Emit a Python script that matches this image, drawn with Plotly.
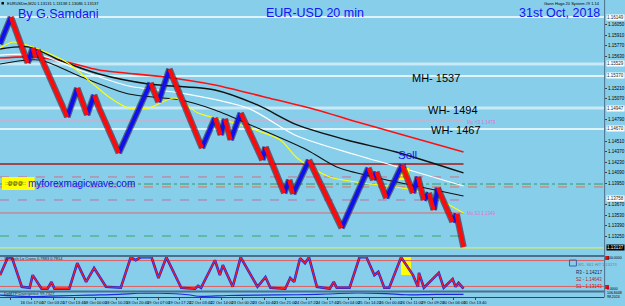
import plotly.graph_objects as go

W, H = 625, 306
BG = "#87CEEB"
FONT = "Liberation Sans, Arial, sans-serif"

# ---------------- data ----------------
# renko-like price path pivots (bar index, price)
path_x = [0, 11, 28, 33, 36, 38, 68, 78, 88, 95, 100, 120, 152, 160, 171, 204, 217, 223, 227, 233, 243,
          265, 268, 287, 292, 296, 312, 345, 372, 377, 380, 390, 406, 417, 422, 428, 433, 438, 442, 457, 461, 468]
path_p = [1.15793, 1.16149, 1.15542, 1.15740, 1.15608, 1.15713, 1.14828, 1.15211, 1.14855, 1.15119, 1.14947,
          1.14353, 1.15278, 1.15026, 1.15462, 1.14419, 1.14815, 1.14591, 1.14802, 1.14525, 1.14881,
          1.14260, 1.14432, 1.13824, 1.13996, 1.13811, 1.14260, 1.13362, 1.14155, 1.13996, 1.14102, 1.13758,
          1.14194, 1.13824, 1.14036, 1.13732, 1.13824, 1.13600, 1.13891, 1.13441, 1.13547, 1.13111]

# moving averages
ma_red_x = [0, 33, 67, 100, 167, 217, 267, 320, 357, 400, 468]
ma_red_p = [1.15608, 1.15621, 1.15555, 1.15449, 1.15357, 1.15251, 1.15093, 1.14921, 1.14776, 1.14617, 1.14366]

ma_blk1_x = [0, 30, 60, 100, 150, 217, 260, 300, 350, 400, 468]
ma_blk1_p = [1.15727, 1.15753, 1.15581, 1.15396, 1.15264, 1.15185, 1.14987, 1.14723, 1.14525, 1.14366, 1.14089]

ma_wht_x = [0, 40, 80, 130, 183, 250, 300, 360, 420, 468]
ma_wht_p = [1.15647, 1.15647, 1.15449, 1.15238, 1.15145, 1.14947, 1.14577, 1.14326, 1.14102, 1.13917]

ma_blk2_x = [0, 40, 80, 130, 183, 217, 260, 310, 340, 377, 420, 468]
ma_blk2_p = [1.15529, 1.15581, 1.15370, 1.15132, 1.15053, 1.14921, 1.14683, 1.14392, 1.14168, 1.14036, 1.13917, 1.13785]

ma_yel_x = [0, 13, 33, 67, 87, 110, 130, 150, 177, 200, 233, 283, 300, 333, 367, 417, 440, 468]
ma_yel_p = [1.15740, 1.15819, 1.15753, 1.15555, 1.15344, 1.15093, 1.14947, 1.14947, 1.15079, 1.14881,
            1.14762, 1.14525, 1.14287, 1.14036, 1.13957, 1.13864, 1.13758, 1.13560]

# horizontal levels
level_p = [1.16149, 1.15529, 1.15370, 1.14947, 1.14776, 1.14670, 1.14208, 1.14036, 1.13943, 1.13904,
           1.13732, 1.13560, 1.13256, 1.13098]
level_end = [610, 610, 610, 610, 468, 610, 468, 468, 610, 610, 468, 468, 468, 610]

# highlighted price labels on the scale
hl_p = [1.16149, 1.15529, 1.15370, 1.14947, 1.14670, 1.13758]
last_price = 1.13137
last_price_pos = 1.13098

# stochastic oscillator
osc_x = [0, 8, 12, 22, 30, 33, 42, 48, 52, 55, 70, 78, 87, 95, 107, 122, 132, 137, 142, 153, 160, 168,
         183, 197, 200, 203, 217, 222, 225, 230, 235, 243, 255, 260, 268, 273, 288, 293, 297, 303, 308,
         312, 320, 333, 337, 340, 353, 363, 370, 378, 382, 388, 393, 405, 417, 422, 423, 428, 443, 448,
         457, 460, 463, 468]
osc_v = [45, 100, 100, 9, 6, 45, 3, 3, 24, 3, 3, 82, 24, 67, 9, 6, 100, 91, 100, 100, 36, 100,
         6, 3, 12, 6, 91, 45, 76, 40, 9, 100, 36, 9, 39, 6, 3, 36, 24, 97, 82,
         100, 9, 3, 24, 6, 6, 100, 100, 45, 55, 6, 6, 100, 45, 9, 52, 6, 52, 6,
         33, 9, 21, 3]
osc_levels = [90, 10]

# lower small indicator panel
div_x = [0, 30, 60, 90, 120, 140, 160, 190, 200, 230, 260, 300, 330, 360, 390, 410, 440, 468]
div_v = [40, 0, 20, 40, 60, 90, 90, 50, 10, 30, 40, 50, 70, 100, 80, 50, 60, 60]

# axis ticks
price_ticks_all = [round(1.16190 - 0.0014 * i, 5) for i in range(23)]
price_ticks = [t for t in price_ticks_all
               if all(abs(t - h) > 0.0008 for h in hl_p + [last_price_pos])]
time_labels = ["16 Oct 2018", "16 Oct 17:00", "17 Oct 03:20", "17 Oct 13:40", "18 Oct 00:00", "18 Oct 10:20",
               "18 Oct 20:40", "19 Oct 07:00", "19 Oct 17:20", "22 Oct 03:40", "22 Oct 14:00", "23 Oct 00:20",
               "23 Oct 10:40", "23 Oct 21:00", "24 Oct 07:20", "24 Oct 17:40", "25 Oct 04:00", "25 Oct 14:20",
               "26 Oct 00:40", "26 Oct 11:00", "29 Oct 09:20", "30 Oct 06:00", "31 Oct 13:40"]
time_ticks = [11 + 21.3 * i for i in range(len(time_labels))]

# ---------------- styles ----------------
level_color = ["white", "rgba(255,255,255,0.55)", "white", "rgba(255,255,255,0.55)", "#e7a3c6", "white",
               "#a81818", "#c8708f", "#2e9e5e", "#e07060", "#c070a0", "#e06a6a", "#38a860", "#d8ec5a"]
level_dash = ["solid", "solid", "solid", "solid", "solid", "solid", "solid", "dash", "dashdot", "dash",
              "dash", "solid", "dash", "solid"]
level_width = [1.5, 3, 1.5, 3, 1, 1.5, 1.5, 1, 1, 1, 1, 1, 1, 1.2]

fig = go.Figure()

# levels
for p, e, c, d, w in zip(level_p, level_end, level_color, level_dash, level_width):
    fig.add_trace(go.Scatter(x=[0, e], y=[p, p], mode="lines", line=dict(color=c, dash=d, width=w),
                             hoverinfo="skip", showlegend=False))

# moving averages
for xs, ps, c, w in [(ma_red_x, ma_red_p, "#ff1010", 1.6), (ma_blk1_x, ma_blk1_p, "#111111", 1.4),
                     (ma_wht_x, ma_wht_p, "white", 1.2), (ma_blk2_x, ma_blk2_p, "#111111", 1.1),
                     (ma_yel_x, ma_yel_p, "#ffff00", 1.1)]:
    fig.add_trace(go.Scatter(x=xs, y=ps, mode="lines", line=dict(color=c, width=w, shape="spline", smoothing=0.8),
                             hoverinfo="skip", showlegend=False))

# price path split into up / down legs
up_x, up_y, dn_x, dn_y = [], [], [], []
for i in range(len(path_x) - 1):
    tx, ty = (up_x, up_y) if path_p[i + 1] > path_p[i] else (dn_x, dn_y)
    tx += [path_x[i], path_x[i + 1], None]
    ty += [path_p[i], path_p[i + 1], None]
for xs, ys in [(up_x, up_y), (dn_x, dn_y)]:
    fig.add_trace(go.Scatter(x=xs, y=ys, mode="lines", line=dict(color="rgba(40,30,50,0.6)", width=6.5),
                             hoverinfo="skip", showlegend=False))
fig.add_trace(go.Scatter(x=up_x, y=up_y, mode="lines", line=dict(color="#1010ee", width=4),
                         hoverinfo="skip", showlegend=False))
fig.add_trace(go.Scatter(x=dn_x, y=dn_y, mode="lines", line=dict(color="#ff0a0a", width=4),
                         hoverinfo="skip", showlegend=False))

# oscillator
for lv in osc_levels:
    fig.add_trace(go.Scatter(x=[0, 610], y=[lv, lv], yaxis="y2", mode="lines",
                             line=dict(color="#e06060", width=1), hoverinfo="skip", showlegend=False))
fig.add_trace(go.Scatter(x=osc_x, y=osc_v, yaxis="y2", mode="lines", line=dict(color="#1a2ae0", width=2.6),
                         hoverinfo="skip", showlegend=False))
fig.add_trace(go.Scatter(x=osc_x, y=osc_v, yaxis="y2", mode="lines", line=dict(color="#ff1a1a", width=1.2),
                         hoverinfo="skip", showlegend=False))

# small indicator
fig.add_trace(go.Scatter(x=div_x, y=div_v, yaxis="y3", mode="lines",
                         line=dict(color="#1a2ae0", width=1.2, shape="spline"), hoverinfo="skip", showlegend=False))


def py(p):
    return 1 - p / H


def px(p):
    return p / W


shapes = [
    # yellow signal boxes
    dict(type="rect", xref="x", yref="y", x0=402, x1=413, y0=1.13996, y1=1.14155,
         fillcolor="#ffff00", line=dict(width=0), layer="below"),
    dict(type="rect", xref="x", yref="y2", x0=405, x1=415, y0=45, y1=100,
         fillcolor="#ffff00", line=dict(width=0), layer="below"),
    # yellow tag behind url
    dict(type="rect", xref="paper", yref="paper", x0=px(2), x1=px(35), y0=py(190), y1=py(177),
         fillcolor="#ffff00", line=dict(width=0)),
    # panel separators
    dict(type="line", xref="paper", yref="paper", x0=0, x1=px(610), y0=py(256), y1=py(256),
         line=dict(color="#4d6f8a", width=2)),
    dict(type="line", xref="paper", yref="paper", x0=0, x1=px(610), y0=py(291.5), y1=py(291.5),
         line=dict(color="#4d6f8a", width=2)),
    dict(type="line", xref="paper", yref="paper", x0=0, x1=px(610), y0=py(297.5), y1=py(297.5),
         line=dict(color="#2e4a60", width=1)),
    dict(type="line", xref="paper", yref="paper", x0=px(610.5), x1=px(610.5), y0=py(297.5), y1=1,
         line=dict(color="#4d6f8a", width=1)),
    # red markers at oscillator axis
    dict(type="rect", xref="paper", yref="paper", x0=px(611), x1=px(615), y0=py(260), y1=py(256),
         fillcolor="#e01010", line=dict(width=0)),
    dict(type="rect", xref="paper", yref="paper", x0=px(611), x1=px(615), y0=py(289), y1=py(285),
         fillcolor="#e01010", line=dict(width=0)),
    # tiny legend icon
    dict(type="rect", xref="paper", yref="paper", x0=px(575), x1=px(582), y0=py(266), y1=py(260),
         line=dict(color="#4060a0", width=1)),
    # small black square top-left
    dict(type="rect", xref="paper", yref="paper", x0=px(1.5), x1=px(4), y0=py(4.5), y1=py(2),
         fillcolor="black", line=dict(width=0)),
]

anns = []


def ann(x, y, text, size, color, xa="left", ya="middle", bg=None, xref="paper", yref="paper"):
    anns.append(dict(xref=xref, yref=yref, x=px(x) if xref == "paper" else x,
                     y=py(y) if yref == "paper" else y, text=text, showarrow=False,
                     xanchor=xa, yanchor=ya, bgcolor=bg, borderpad=0,
                     font=dict(family=FONT, size=size, color=color)))


ann(17, 14, "By G.Samdani", 12.5, "#1414f5")
ann(318, 13, "EUR-USD 20 min", 12.5, "#1414f5", xa="center")
ann(607, 13, "31st Oct, 2018", 12.5, "#1414f5", xa="right")
ann(440, 77.5, "MH- 1537", 11, "black", xa="center")
ann(457, 109.5, "WH- 1494", 11, "black", xa="center")
ann(460, 130, "WH- 1467", 11, "black", xa="center")
ann(411, 155, "Sell", 11.5, "#1414f5", xa="center")
ann(409, 165, "↓", 8, "#1414f5", xa="center")
ann(27, 183, "myforexmagicwave.com", 10, "#1414f5")
ann(4, 183, "::@@@::", 5, "black")
ann(471, 122.5, "Mo H3 1.1479", 4.5, "#e070d0")
ann(471, 213, "Mo S3 1.1349", 4.5, "#e070d0")
ann(6, 3.2, "EURUSDm,M20 1.13131 1.13138 1.13086 1.13137", 4, "black")
ann(607, 3.2, "Gann Hugo 20 System #9 1.14", 4, "black", xa="right")
ann(3, 258.5, "3LStoch Lo Cross 0.7883 0.7814", 4, "#223")
ann(3, 293.5, "DeMTP Divergence 99.7327", 4, "#223")
ann(583, 264, "W1- S61 HIT 1.13273", 4, "#708090")
ann(581, 272, "R3 - 1.14217", 4.5, "#1a1a40")
ann(581, 279, "S2 - 1.14643", 4.5, "#d01010")
ann(581, 286, "S1 - 1.13143", 4.5, "#d01010")
ann(612, 258, "100.0000", 3.5, "black")
ann(612, 289, "0.0000", 3.5, "black")
ann(612, 293, "106.8448", 3.5, "black")
ann(612, 296.5, "98.2024", 3.5, "black")
# highlighted level labels on the price scale (data-positioned)
for h in hl_p:
    anns.append(dict(xref="paper", yref="y", x=px(611.5), y=h, text=f"{h:.5f}", showarrow=False,
                     xanchor="left", yanchor="middle", bgcolor="white", borderpad=0,
                     font=dict(family=FONT, size=4.5, color="#222")))
anns.append(dict(xref="paper", yref="y", x=px(611.5), y=last_price_pos, text=f"{last_price:.5f}",
                 showarrow=False, xanchor="left", yanchor="middle", bgcolor="black", borderpad=0,
                 font=dict(family=FONT, size=4.5, color="white")))

fig.update_layout(
    width=W, height=H, margin=dict(l=0, r=0, t=0, b=0),
    paper_bgcolor=BG, plot_bgcolor=BG, showlegend=False,
    font=dict(family=FONT, size=5, color="black"),
    xaxis=dict(domain=[0, 610 / W], range=[0, 610], anchor="y3", showgrid=False, zeroline=False,
               tickvals=time_ticks, ticktext=time_labels, tickangle=0, ticks="outside", ticklen=1.5,
               tickfont=dict(size=4, color="black"), showline=False),
    yaxis=dict(domain=[py(255), 1], range=[1.13005, 1.16374], side="right", anchor="x",
               showgrid=False, zeroline=False, tickvals=price_ticks, ticktext=[f"{v:.5f}" for v in price_ticks],
               ticks="outside", ticklen=2, tickfont=dict(size=4.5, color="black")),
    yaxis2=dict(domain=[py(290), py(257)], range=[-1, 101], showgrid=False, zeroline=False,
                showticklabels=False, anchor="x"),
    yaxis3=dict(domain=[py(297), py(292.5)], range=[-10, 110], showgrid=False, zeroline=False,
                showticklabels=False, anchor="x"),
    shapes=shapes, annotations=anns,
)

fig.write_html("out.html")
